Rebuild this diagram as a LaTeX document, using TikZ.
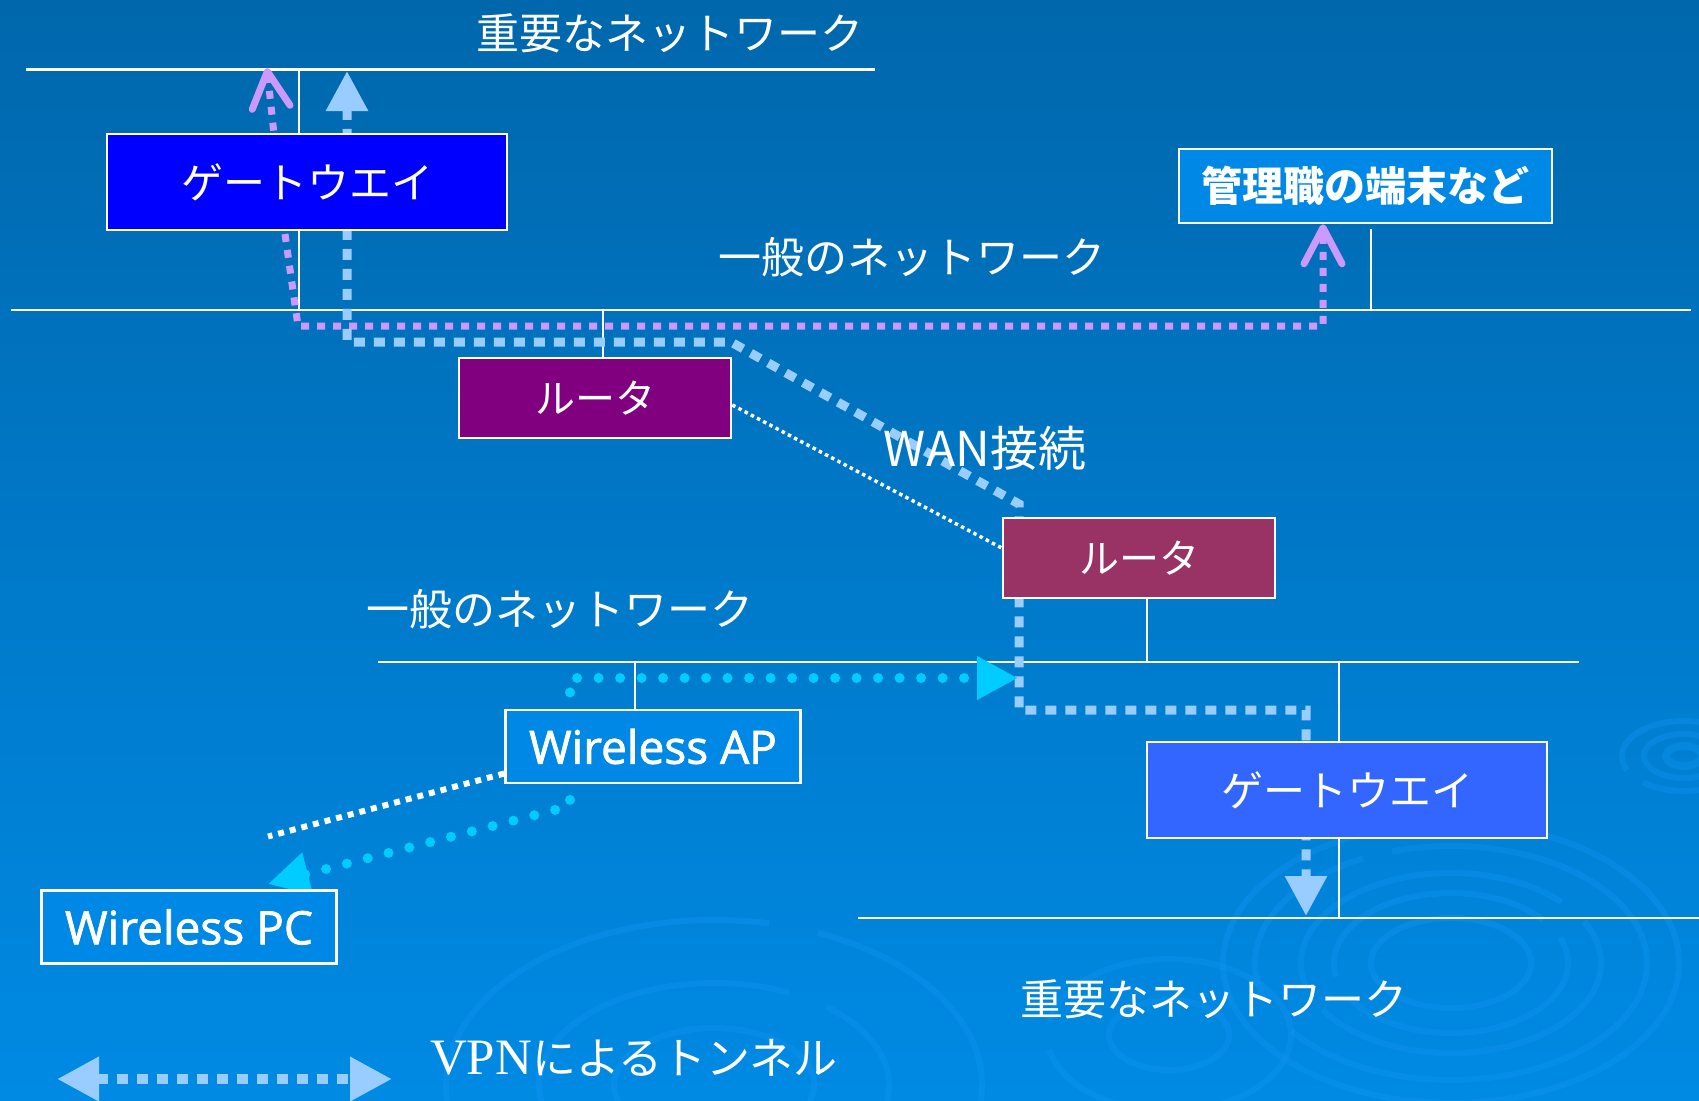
\documentclass[tikz,border=0pt]{standalone}
\usepackage{fontspec}
\usetikzlibrary{arrows.meta}
\newfontfamily\jp{Noto Sans CJK JP}
\newfontfamily\lat[FakeBold=1.6]{Open Sans}
\newfontfamily\ser{Liberation Serif}
\definecolor{bgTop}{RGB}{0,103,172}
\definecolor{bgMid}{RGB}{0,110,184}
\definecolor{bgBot}{RGB}{0,138,228}
\definecolor{pathPurple}{RGB}{204,153,255}
\definecolor{pathBlue}{RGB}{153,204,255}
\definecolor{pathCyan}{RGB}{0,204,255}
\definecolor{gwA}{RGB}{0,0,255}
\definecolor{gwB}{RGB}{51,102,255}
\definecolor{rtA}{RGB}{128,0,128}
\definecolor{rtB}{RGB}{153,51,102}
\definecolor{devFill}{RGB}{0,136,230}
\definecolor{ringcol}{RGB}{20,150,245}
\begin{document}
\begin{tikzpicture}[x=1pt,y=-1pt,
  box/.style={draw=white, line width=2.5pt, inner sep=0pt, text=white, anchor=center},
  jplbl/.style={text=white, inner sep=0pt, font=\jp\fontsize{43}{50}\selectfont},
  netline/.style={draw=white, line width=2.5pt},
  dropline/.style={draw=white, line width=1.8pt},
  purplepath/.style={draw=pathPurple, line width=7pt, dash pattern=on 8pt off 8pt,
     arrows={Straight Barb[length=36pt,width=38pt,round]-Straight Barb[length=36pt,width=38pt,round]}},
  bluepath/.style={draw=pathBlue, line width=9pt, dash pattern=on 11pt off 9pt,
     arrows={Triangle[length=40pt,width=40pt]-Triangle[length=40pt,width=40pt]}},
  cyanpath/.style={draw=pathCyan, line width=10pt, line cap=round, dash pattern=on 0pt off 21.5pt,
     arrows={Triangle[length=41pt,width=41pt]-Triangle[length=41pt,width=41pt]}},
  wdot/.style={draw=white, line width=3.5pt, dash pattern=on 3.5pt off 3.5pt},
  wdash/.style={draw=white, line width=6pt, dash pattern=on 6pt off 6pt},
  ringline/.style={draw=ringcol, line width=6pt, opacity=0.35}
]
\useasboundingbox (0,0) rectangle (1699,1100);
\shade[top color=bgTop, middle color=bgMid, bottom color=bgBot] (0,0) rectangle (1699,1100);

% ripples
\draw[ringline] (1451,963) ellipse [x radius=80, y radius=45];
\draw[ringline, dash pattern=on 260pt off 25pt] (1451,963) ellipse [x radius=117, y radius=70];
\draw[ringline, dash pattern=on 330pt off 30pt] (1451,963) ellipse [x radius=150, y radius=90];
\draw[ringline, dash pattern=on 420pt off 40pt on 200pt off 30pt] (1451,963) ellipse [x radius=196, y radius=117];
\draw[ringline] (1451,963) ellipse [x radius=228, y radius=140];
\draw[ringline] (714,1085) ellipse [x radius=100, y radius=57];
\draw[ringline, dash pattern=on 350pt off 40pt] (714,1085) ellipse [x radius=175, y radius=102];
\draw[ringline, dash pattern=on 520pt off 50pt] (714,1085) ellipse [x radius=268, y radius=165];
\draw[ringline] (1169,1035) ellipse [x radius=60, y radius=35];
\draw[ringline, dash pattern=on 300pt off 30pt] (1169,1035) ellipse [x radius=122, y radius=76];
\draw[ringline, line width=8pt] (1684,756) ellipse [x radius=18, y radius=10];
\draw[ringline] (1684,756) ellipse [x radius=40, y radius=22];
\draw[ringline, dash pattern=on 120pt off 20pt] (1684,756) ellipse [x radius=62, y radius=35];

% boxes (positions)
\node[box, fill=gwA, minimum width=400pt, minimum height=96pt, font=\jp\fontsize{42}{50}\selectfont] (gw1) at (307,182) {ゲートウエイ};
\node[box, fill=devFill, minimum width=373pt, minimum height=74pt, font=\jp\bfseries\fontsize{41}{50}\selectfont] (mgr) at (1365.5,186) {管理職の端末など};
\node[box, fill=rtA, minimum width=272pt, minimum height=80pt, font=\jp\fontsize{40}{50}\selectfont] (r1) at (595,398) {ルータ};
\node[box, fill=rtB, minimum width=272pt, minimum height=80pt, font=\jp\fontsize{40}{50}\selectfont] (r2) at (1139,558) {ルータ};
\node[box, fill=devFill, minimum width=295pt, minimum height=73pt, font=\lat\fontsize{46}{54}\selectfont] (ap) at (653,746.5) {Wireless AP};
\node[box, fill=devFill, minimum width=295pt, minimum height=73pt, font=\lat\fontsize{46}{54}\selectfont] (pc) at (189,927) {Wireless PC};
\node[box, fill=gwB, minimum width=400pt, minimum height=96pt, font=\jp\fontsize{42}{50}\selectfont] (gw2) at (1347,790) {ゲートウエイ};

% network lines
\coordinate (n1a) at (26,69.5);   \coordinate (n1b) at (875,69.5);
\coordinate (n2a) at (11,310);    \coordinate (n2b) at (1691,310);
\coordinate (n3a) at (378,662);   \coordinate (n3b) at (1579,662);
\coordinate (n4a) at (858,918);   \coordinate (n4b) at (1699,918);
\draw[netline] (n1a) -- (n1b);
\draw[netline] (n2a) -- (n2b);
\draw[netline] (n3a) -- (n3b);
\draw[netline] (n4a) -- (n4b);
\draw[dropline] (299,69.5) -- (299,310);
\draw[dropline] (603,310) -- (603,0 |- r1.north);
\draw[dropline] (1371,229) -- (1371,310);
\draw[dropline] (1147,0 |- r2.south) -- (1147,662);
\draw[dropline] (635,662) -- (635,0 |- ap.north);
\draw[dropline] (1339,662) -- (1339,918);

% flow paths
\coordinate (pTipL) at (267,68);
\coordinate (pTipR) at (1323,0 |- mgr.south);
\draw[purplepath] (pTipL) -- (283,220) -- (298,326) -- (1323,326) -- (pTipR);

\coordinate (bTipA) at (347,71);
\coordinate (bTipB) at (1306,916);
\draw[bluepath] (bTipA) -- (347,342) -- (731,342) -- (1019,504) -- (1019,710) -- (1306,710) -- (bTipB);

\coordinate (cTipA) at (268,884);
\coordinate (cTipB) at (1018,678);
\draw[cyanpath] (cTipA) -- (570,806) -- (570,678) -- (cTipB);

\draw[wdot] ([yshift=-7pt]r1.east) -- ([yshift=10pt]r2.west);
\coordinate (wEnd) at (268,836.5);
\draw[wdash] ([yshift=-27pt]ap.west) -- (wEnd);

% redraw boxes on top
\node[box, fill=gwA, minimum width=400pt, minimum height=96pt, font=\jp\fontsize{42}{50}\selectfont] at (gw1) {ゲートウエイ};
\node[box, fill=devFill, minimum width=373pt, minimum height=74pt, font=\jp\bfseries\fontsize{41}{50}\selectfont] at (mgr) {管理職の端末など};
\node[box, fill=rtA, minimum width=272pt, minimum height=80pt, font=\jp\fontsize{40}{50}\selectfont] at (r1) {ルータ};
\node[box, fill=rtB, minimum width=272pt, minimum height=80pt, font=\jp\fontsize{40}{50}\selectfont] at (r2) {ルータ};
\node[box, fill=devFill, minimum width=295pt, minimum height=73pt, font=\lat\fontsize{46}{54}\selectfont] at (ap) {Wireless AP};
\node[box, fill=devFill, minimum width=295pt, minimum height=73pt, font=\lat\fontsize{46}{54}\selectfont] at (pc) {Wireless PC};
\node[box, fill=gwB, minimum width=400pt, minimum height=96pt, font=\jp\fontsize{42}{50}\selectfont] at (gw2) {ゲートウエイ};

% labels
\node[jplbl] (tTop) at (670,33) {重要なネットワーク};
\node[jplbl] (tMid1) at (912,257) {一般のネットワーク};
\node[jplbl] (tMid2) at (560,609) {一般のネットワーク};
\node[jplbl] (tBot) at (1214,999) {重要なネットワーク};
\node[jplbl, font=\jp\fontsize{48}{54}\selectfont] (tWan) at (985,448) {WAN接続};

% legend
\coordinate (lgA) at (57,1079);
\coordinate (lgB) at (392,1079);
\draw[bluepath, line width=10pt, arrows={Triangle[length=42pt,width=42pt]-Triangle[length=42pt,width=42pt]}] (lgA) -- (lgB);
\node[jplbl, font=\jp\fontsize{44}{54}\selectfont] (tVpn) at (634,1058) {{\ser\fontsize{51}{54}\selectfont VPN}によるトンネル};
\end{tikzpicture}
\end{document}
